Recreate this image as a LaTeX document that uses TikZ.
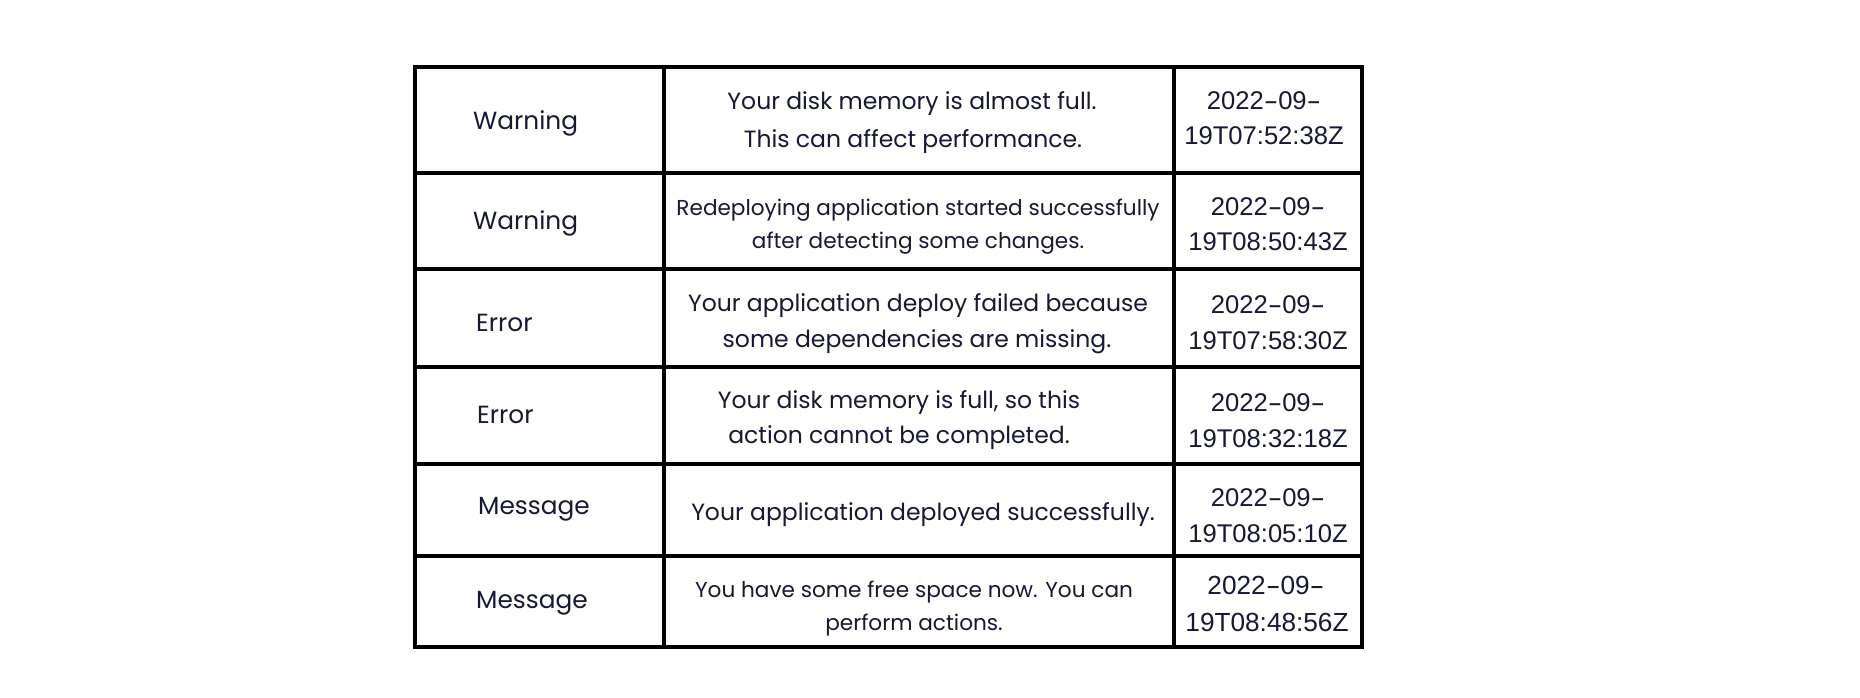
\documentclass[tikz,border=0pt]{standalone}
\usepackage{fontspec}
\usepackage{graphicx}
\setmainfont{Poppins}
\newfontfamily\datefont{Liberation Sans}
\definecolor{ink}{RGB}{22,24,52}
\newcommand{\hy}{\scalebox{1.7}[1]{-}}
\begin{document}
\begin{tikzpicture}[x=1pt,y=-1pt,
  cell/.style={anchor=base, inner sep=0pt, text=ink},
  kind/.style={cell, anchor=base west, font=\fontsize{24.8}{29}\selectfont},
  msg/.style={cell, font=\fontsize{23.5}{28}\selectfont},
  msgs/.style={cell, font=\fontsize{21.6}{26}\selectfont},
  stamp/.style={cell, font=\datefont\fontsize{25.6}{30}\selectfont},
  stampl/.style={cell, font=\datefont\fontsize{26.2}{30}\selectfont},
  rule/.style={line width=3.5pt, draw=black}]
\useasboundingbox[fill=white] (0,0) rectangle (1860,698);
% grid
\draw[rule] (415,67) rectangle (1362,647);
\foreach \yy in {173,269,367,464,556} \draw[rule] (415,\yy) -- (1362,\yy);
\foreach \xx in {664,1174} \draw[rule] (\xx,67) -- (\xx,647);
% first column
\node[kind] (k1) at (473,130) {Warning};
\node[kind] (k2) at (473,229) {Warning};
\node[kind] (k3) at (476,331) {Error};
\node[kind] (k4) at (477,423) {Error};
\node[kind] (k5) at (478,514) {Message};
\node[kind] (k6) at (476,608) {Message};
% second column
\node[msg] (m1a) at (912,110) {Your disk memory is almost full.};
\node[msg] (m1b) at (913,147) {This can affect performance.};
\node[msgs] (m2a) at (918,215) {Redeploying application started successfully};
\node[msgs] (m2b) at (918,248) {after detecting some changes.};
\node[msg] (m3a) at (918,311) {Your application deploy failed because};
\node[msg] (m3b) at (917,347) {some dependencies are missing.};
\node[msg] (m4a) at (899,408) {Your disk memory is full, so this};
\node[msg] (m4b) at (899,443) {action cannot be completed.};
\node[msg] (m5) at (923,520) {Your application deployed successfully.};
\node[msgs] (m6a) at (914,597) {You have some free space now. You can};
\node[msgs] (m6b) at (914,630) {perform actions.};
% third column
\node[stamp] (d1a) at (1264,110) {2022\hy09\hy};
\node[stamp] (d1b) at (1264,145) {19T07:52:38Z};
\node[stamp] (d2a) at (1268,215) {2022\hy09\hy};
\node[stamp] (d2b) at (1268,250) {19T08:50:43Z};
\node[stamp] (d3a) at (1268,313) {2022\hy09\hy};
\node[stamp] (d3b) at (1268,349) {19T07:58:30Z};
\node[stamp] (d4a) at (1268,411) {2022\hy09\hy};
\node[stamp] (d4b) at (1268,447) {19T08:32:18Z};
\node[stamp] (d5a) at (1268,506) {2022\hy09\hy};
\node[stamp] (d5b) at (1268,542) {19T08:05:10Z};
\node[stampl] (d6a) at (1266,594) {2022\hy09\hy};
\node[stampl] (d6b) at (1267,631) {19T08:48:56Z};
\end{tikzpicture}
\end{document}
